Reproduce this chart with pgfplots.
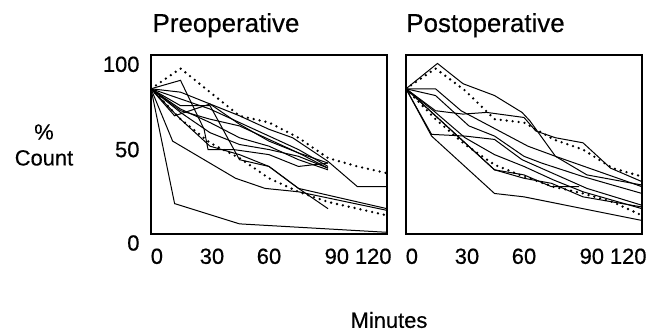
\documentclass[border=0pt]{standalone}
\usepackage{fontspec}
\setmainfont[FakeBold=0.35]{Liberation Sans}
\newfontfamily\heavy[FakeBold=0.5]{Liberation Sans}
\usepackage{pgfplots}
\pgfplotsset{compat=1.18}
\pgfplotsset{
  panel/.style={
    anchor=south west, scale only axis, width=236bp, height=179bp,
    xmin=0, xmax=120, ymin=0, ymax=106,
    xtick={3,31,60,94.5,113}, xticklabels={0,30,60,90,120},
    ytick={50,100.5}, yticklabels={50,100},
    extra y ticks={0}, extra y tick labels={0},
    extra y tick style={yticklabel style={yshift=-9bp}},
    major tick length=0pt,
    axis line style={line width=1.3bp},
    tick label style={font=\heavy\fontsize{22}{22}\selectfont},
    /pgf/number format/assume math mode=true,
    xticklabel style={yshift=-11bp},
    yticklabel style={xshift=-8bp},
    cycle list={{black, solid, line width=1bp, mark=none}},
  },
  sline/.style={black, solid, line width=1bp, mark=none},
  dotline/.style={black, line width=2.6bp, line cap=round, dash pattern=on 0bp off 6bp, mark=none},
}
\begin{document}
\begin{tikzpicture}
\useasboundingbox (0,0) rectangle (652bp,336bp);
% ---------------- Preoperative
\begin{axis}[panel, at={(151bp,102bp)}]
\addplot[dotline] coordinates {(0,86) (15,98) (30,84) (45,70) (60,66) (75,57) (90,45) (105,40) (120,36)};
\addplot[dotline] coordinates {(0,86) (15,68) (30,54) (45,45) (60,33) (75,25) (90,19) (120,11)};
\addplot[sline] coordinates {(0,86) (15,91) (27,62) (29,50) (42,50) (60,47) (75,40) (90,42)};
\addplot[sline] coordinates {(0,86) (15,84) (30,77) (45,70) (60,62) (72,57) (90,43) (105,28) (120,28)};
\addplot[sline] coordinates {(0,86) (12,70) (30,77) (45,65) (60,55) (75,48) (90,42)};
\addplot[sline] coordinates {(0,86) (15,80) (30,74) (45,66) (60,58) (75,50) (90,40)};
\addplot[sline] coordinates {(0,86) (15,73) (30,68) (45,64) (60,56) (75,48) (90,39)};
\addplot[sline] coordinates {(0,86) (15,76) (30,76) (45,44) (60,40) (75,27) (90,15)};
\addplot[sline] coordinates {(0,86) (15,72) (30,60) (45,53) (60,50) (75,46) (90,39)};
\addplot[sline] coordinates {(0,86) (15,74) (30,66) (45,57) (60,52) (75,44) (90,38)};
\addplot[sline] coordinates {(0,86) (15,68) (30,52) (45,47) (60,40) (75,27) (120,15)};
\addplot[sline] coordinates {(0,86) (11,55) (43,33) (58,27) (75,25) (120,14)};
\addplot[sline] coordinates {(0,86) (12,18) (45,6) (120,1)};
\end{axis}
% ---------------- Postoperative
\begin{axis}[panel, at={(406bp,102bp)}, yticklabels={}, extra y tick labels={}]
\addplot[dotline] coordinates {(0,86) (15,98) (30,85) (45,68) (60,66) (75,56) (90,50) (105,39) (120,34)};
\addplot[dotline] coordinates {(0,86) (15,68) (30,53) (45,41) (60,34) (75,28) (90,24) (105,19) (120,11)};
\addplot[sline] coordinates {(0,86) (16,101) (29,89) (45,82) (59,72) (63,67) (76,46) (92,35) (120,29)};
\addplot[sline] coordinates {(0,86) (15,73) (29,71) (41,72) (60,69) (66,61) (76,57) (90,54) (104,39) (120,31)};
\addplot[sline] coordinates {(0,86) (15,86) (28,73) (62,52) (76,46) (120,28)};
\addplot[sline] coordinates {(0,86) (15,82) (32,64) (45,58) (60,46) (69,42) (90,34) (120,24)};
\addplot[sline] coordinates {(0,86) (13,59) (30,58) (45,56) (59,44) (92,27) (120,17)};
\addplot[sline] coordinates {(0,86) (13,58) (45,24) (60,22) (120,8)};
\addplot[sline] coordinates {(0,86) (45,38) (60,35) (74,28) (88,28)};
\addplot[sline] coordinates {(0,86) (45,38) (60,33) (74,30) (90,22) (120,16)};
\addplot[sline] coordinates {(0,86) (15,72) (30,57) (45,47) (60,40) (75,32) (90,25) (120,15)};
\end{axis}
\node[anchor=base, font=\fontsize{26}{26}\selectfont] at (226bp,304bp) {Preoperative};
\node[anchor=base, font=\fontsize{26}{26}\selectfont] at (485.5bp,304bp) {Postoperative};
\node[align=center, font=\fontsize{22}{26}\selectfont] at (44bp,191bp) {\%\\Count};
\node[font=\fontsize{22}{22}\selectfont] at (389bp,16bp) {Minutes};
\end{tikzpicture}
\end{document}
